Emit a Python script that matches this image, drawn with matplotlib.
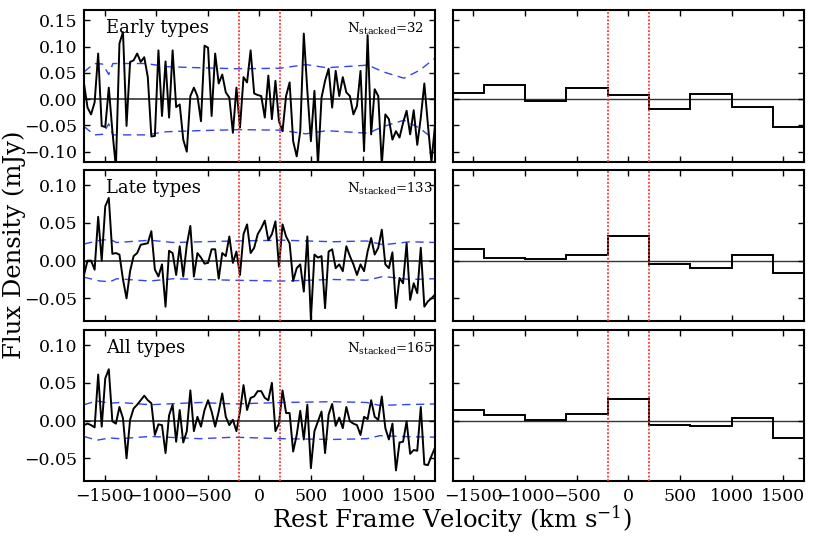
import numpy as np
import matplotlib
matplotlib.use('Agg')
import matplotlib.pyplot as plt
from matplotlib.ticker import MultipleLocator

plt.rcParams['font.family'] = ['DejaVu Serif']
plt.rcParams['mathtext.fontset'] = 'dejavuserif'

# ---------------- data ----------------
velocity = np.linspace(-1700, 1700, 100)   # channel velocities (km/s)

early_flux = [0.03, -0.016, -0.029, -0.006, 0.087, -0.051, -0.053, 0.022, -0.06, -0.13,
              0.106, 0.128, -0.051, 0.071, 0.074, 0.087, 0.071, 0.080, 0.042, -0.071,
              -0.070, 0.093, -0.032, 0.072, -0.035, 0.093, -0.015, -0.010, -0.077, -0.10,
              0.006, 0.022, 0.006, -0.042, 0.102, 0.098, -0.032, 0.087, 0.030, 0.047,
              0.013, 0.003, -0.064, 0.022, -0.054, 0.042, 0.032, 0.093, 0.011, 0.008,
              0.006, -0.035, 0.045, -0.038, 0.035, -0.042, -0.061, 0.006, 0.032, -0.080,
              -0.109, -0.061, 0.125, 0.016, -0.080, 0.016, -0.125, 0.003, 0.035, 0.058,
              -0.016, 0.054, 0.006, 0.042, 0.013, 0.006, -0.029, -0.013, 0.054, -0.099,
              0.122, -0.067, 0.019, 0.006, -0.125, -0.029, -0.038, -0.077, -0.061, -0.073,
              -0.045, -0.022, -0.067, -0.021, -0.087, -0.035, 0.030, -0.048, -0.12, -0.05]

late_flux = [-0.019, 0.0, 0.0, -0.012, 0.058, 0.0, 0.072, 0.083, 0.009, 0.010,
             0.008, -0.025, -0.050, -0.014, 0.006, 0.010, 0.021, 0.022, 0.023, 0.039,
             -0.012, -0.021, -0.005, -0.061, 0.013, 0.010, -0.019, 0.019, -0.021, 0.021,
             0.046, -0.021, 0.010, 0.004, -0.004, -0.003, 0.015, 0.015, -0.024, 0.010,
             0.006, 0.032, -0.003, 0.012, -0.019, 0.035, 0.048, 0.010, 0.017, 0.035,
             0.043, 0.053, 0.027, 0.035, 0.052, -0.008, 0.048, 0.032, 0.023, -0.027,
             -0.010, -0.005, -0.041, 0.032, -0.078, 0.008, 0.004, 0.006, -0.063, 0.012,
             0.015, -0.010, -0.005, -0.014, 0.019, 0.006, -0.005, -0.019, -0.005, -0.014,
             0.012, 0.030, 0.008, 0.017, 0.041, -0.005, -0.010, 0.011, -0.063, -0.023,
             -0.030, 0.023, -0.052, -0.030, -0.043, 0.017, -0.061, -0.054, -0.050, -0.045]

all_flux = [-0.006, -0.004, -0.006, -0.009, 0.061, -0.008, 0.056, 0.068, -0.001, -0.004,
            0.018, 0.003, -0.050, 0.001, 0.016, 0.021, 0.027, 0.033, 0.027, 0.023,
            -0.019, -0.005, -0.006, -0.043, 0.007, 0.021, -0.028, 0.014, -0.029, -0.014,
            0.040, -0.014, 0.005, -0.008, 0.014, 0.027, 0.012, -0.008, 0.012, 0.036,
            0.005, -0.006, 0.001, -0.014, 0.012, 0.047, 0.014, 0.030, 0.032, 0.039,
            0.039, 0.030, 0.027, 0.050, -0.014, -0.004, 0.040, 0.010, 0.010, -0.041,
            -0.019, 0.013, -0.025, 0.021, -0.063, -0.014, -0.001, 0.012, -0.043, 0.008,
            0.022, -0.007, 0.004, -0.010, 0.018, -0.001, -0.004, -0.006, -0.019, 0.005,
            0.002, 0.027, 0.005, 0.001, 0.032, -0.010, -0.025, -0.004, -0.066, -0.029,
            -0.028, -0.001, -0.044, -0.039, -0.040, 0.018, -0.058, -0.059, -0.047, -0.036]

# noise envelopes (sampled)
early_sig_v = [-1700, -1600, -1520, -1460, -1420, -1100, -900, -600, -200, 200, 450, 650, 900, 1050, 1200, 1400, 1550, 1700]
early_sig = [0.052, 0.068, 0.067, 0.047, 0.068, 0.068, 0.062, 0.060, 0.058, 0.059, 0.066, 0.060, 0.063, 0.065, 0.052, 0.040, 0.055, 0.078]
late_sig_v = [-1700, -1545, -1448, -1384, -1061, -835, -253, 231, 715, 1038, 1200, 1458, 1700]
late_sig = [0.022, 0.027, 0.028, 0.024, 0.027, 0.024, 0.026, 0.027, 0.025, 0.026, 0.021, 0.025, 0.024]
all_sig_v = [-1700, -1577, -1448, -1351, -1061, -576, -253, 231, 715, 1038, 1167, 1361, 1700]
all_sig = [0.021, 0.026, 0.023, 0.024, 0.021, 0.024, 0.022, 0.024, 0.025, 0.024, 0.020, 0.021, 0.022]

# binned spectra
bin_edges = [-1700, -1400, -1000, -600, -200, 200, 600, 1000, 1400, 1700]
early_binned = [0.012, 0.027, -0.004, 0.021, 0.008, -0.019, 0.009, -0.014, -0.053]
late_binned = [0.015, 0.004, 0.002, 0.007, 0.032, -0.005, -0.010, 0.008, -0.016]
all_binned = [0.0135, 0.007, 0.001, 0.009, 0.028, -0.006, -0.007, 0.004, -0.023]

labels = ['Early types', 'Late types', 'All types']
n_stacked = [32, 133, 165]
ylims = [(-0.12, 0.17), (-0.08, 0.12), (-0.08, 0.12)]
line_window = [-200, 200]

fluxes = [early_flux, late_flux, all_flux]
sig_vs = [early_sig_v, late_sig_v, all_sig_v]
sigs = [early_sig, late_sig, all_sig]
binned = [early_binned, late_binned, all_binned]

# ---------------- figure ----------------
fig = plt.figure(figsize=(8.17, 5.37), dpi=100)

rows = [(0.698, 0.9814), (0.4022, 0.6834), (0.1043, 0.3855)]
lx0, lx1 = 0.1028, 0.5324
rx0, rx1 = 0.554, 0.984

def style(ax, ylim, show_x, show_y):
    ax.set_xlim(-1700, 1700)
    ax.set_ylim(*ylim)
    ax.xaxis.set_major_locator(MultipleLocator(500))
    ax.yaxis.set_major_locator(MultipleLocator(0.05))
    ax.tick_params(direction='in', top=True, right=True, length=4, width=1,
                   labelsize=12.5, pad=5)
    for s in ax.spines.values():
        s.set_linewidth(1.5)
    if not show_x:
        ax.set_xticklabels([])
    if not show_y:
        ax.set_yticklabels([])

blue = '#3344ee'
red = '#ff3030'

for k in range(3):
    b, t = rows[k]
    axl = fig.add_axes([lx0, b, lx1 - lx0, t - b])
    axr = fig.add_axes([rx0, b, rx1 - rx0, t - b])

    # left: spectrum
    axl.axhline(0, color='#333333', lw=1.2, zorder=1)
    axl.plot(velocity, fluxes[k], color='k', lw=1.4, zorder=3)
    sv = np.array(sig_vs[k])
    ss = np.array(sigs[k])
    axl.plot(sv, ss, color=blue, lw=1, dashes=(6, 4), zorder=2)
    axl.plot(sv, -ss, color=blue, lw=1, dashes=(6, 4), zorder=2)
    for v in line_window:
        axl.axvline(v, color=red, lw=1.3, ls=(0, (1, 1)), zorder=4)
    axl.text(0.063, 0.85, labels[k], transform=axl.transAxes, fontsize=13,
             va='baseline', ha='left')
    axl.text(0.748, 0.85, r'N$_{\rm stacked}$=%d' % n_stacked[k],
             transform=axl.transAxes, fontsize=9.5, va='baseline', ha='left')
    style(axl, ylims[k], show_x=(k == 2), show_y=True)

    # right: binned
    axr.axhline(0, color='#333333', lw=1.0, zorder=1)
    axr.stairs(binned[k], bin_edges, baseline=None, color='k', lw=1.4, zorder=3)
    for v in line_window:
        axr.axvline(v, color=red, lw=1.3, ls=(0, (1, 1)), zorder=4)
    style(axr, ylims[k], show_x=(k == 2), show_y=False)

fig.text(0.018, 0.544, 'Flux Density (mJy)', rotation=90, fontsize=17.5,
         ha='center', va='center')
fig.text(0.553, 0.017, r'Rest Frame Velocity (km s$^{-1}$)', fontsize=17.5,
         ha='center', va='baseline')

fig.savefig('out.png', dpi=100)
